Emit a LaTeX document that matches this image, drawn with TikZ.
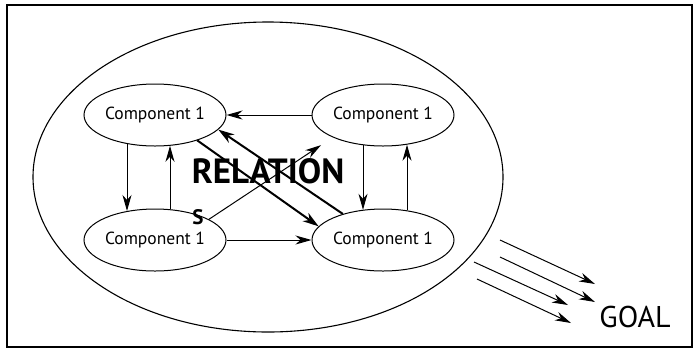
\documentclass[tikz,border=0pt]{standalone}
\usepackage{fontspec}
\setmainfont{PT Sans}
\usetikzlibrary{arrows.meta, shapes.geometric, calc}

\tikzset{
  comp/.style={draw, ellipse, line width=1pt, minimum width=142pt, minimum height=62pt, inner sep=0pt, font=\fontsize{17.5}{19}\selectfont},
  arr/.style={line width=1pt, -{Stealth[length=16pt, width=9pt, inset=5pt]}},
  heavyarr/.style={line width=2pt, -{Stealth[length=16pt, width=10pt, inset=5pt]}},
}

\begin{document}
\begin{tikzpicture}[x=1pt, y=-1pt]
\useasboundingbox (0,0) rectangle (698,349);
% frame
\draw[line width=1.4pt] (7,5) rectangle (692,347);
% system boundary
\node[draw, ellipse, line width=1.1pt, minimum width=470pt, minimum height=310pt] (sys) at (268,177) {};
% components
\node[comp] (tl) at (155,115) {Component 1};
\node[comp] (tr) at (383,115) {Component 1};
\node[comp] (bl) at (155,240) {Component 1};
\node[comp] (br) at (383,240) {Component 1};
% labels
\node[font=\bfseries\fontsize{35}{38}\selectfont] (rel) at (268,171) {RELATION};
\node[font=\bfseries\fontsize{21}{24}\selectfont] (s) at (198,217) {S};
\node[font=\fontsize{30}{32}\selectfont] (goal) at (635,317) {GOAL};
% horizontal relations
\draw[arr] (tr.west) -- (tl.east);
\draw[arr] (bl.east) -- (br.west);
% vertical relations
\draw[arr] ($(tl.south)+(-28,-2.5)$) -- ($(bl.north)+(-28,2.5)$);
\draw[arr] ($(bl.north)+(15,0.7)$) -- ($(tl.south)+(15,-0.7)$);
\draw[arr] ($(tr.south)+(-20,-1.3)$) -- ($(br.north)+(-20,1.3)$);
\draw[arr] ($(br.north)+(24,1.8)$) -- ($(tr.south)+(24,-1.8)$);
% diagonals
\draw[arr, shorten >=14pt] (bl.21) -- (tr.204);
\draw[heavyarr] (tl.-31) -- (br.168);
\draw[heavyarr] (br.147) -- (tl.-13);
% towards the goal
\foreach \i/\a/\b/\c/\d in {1/500/240/595/284, 2/500/257/595/302, 3/474/262/568/305, 4/477/279/571/323} {
  \coordinate (g\i) at (\a,\b);
  \coordinate (h\i) at (\c,\d);
  \draw[arr] (g\i) -- (h\i);
}
\end{tikzpicture}
\end{document}
